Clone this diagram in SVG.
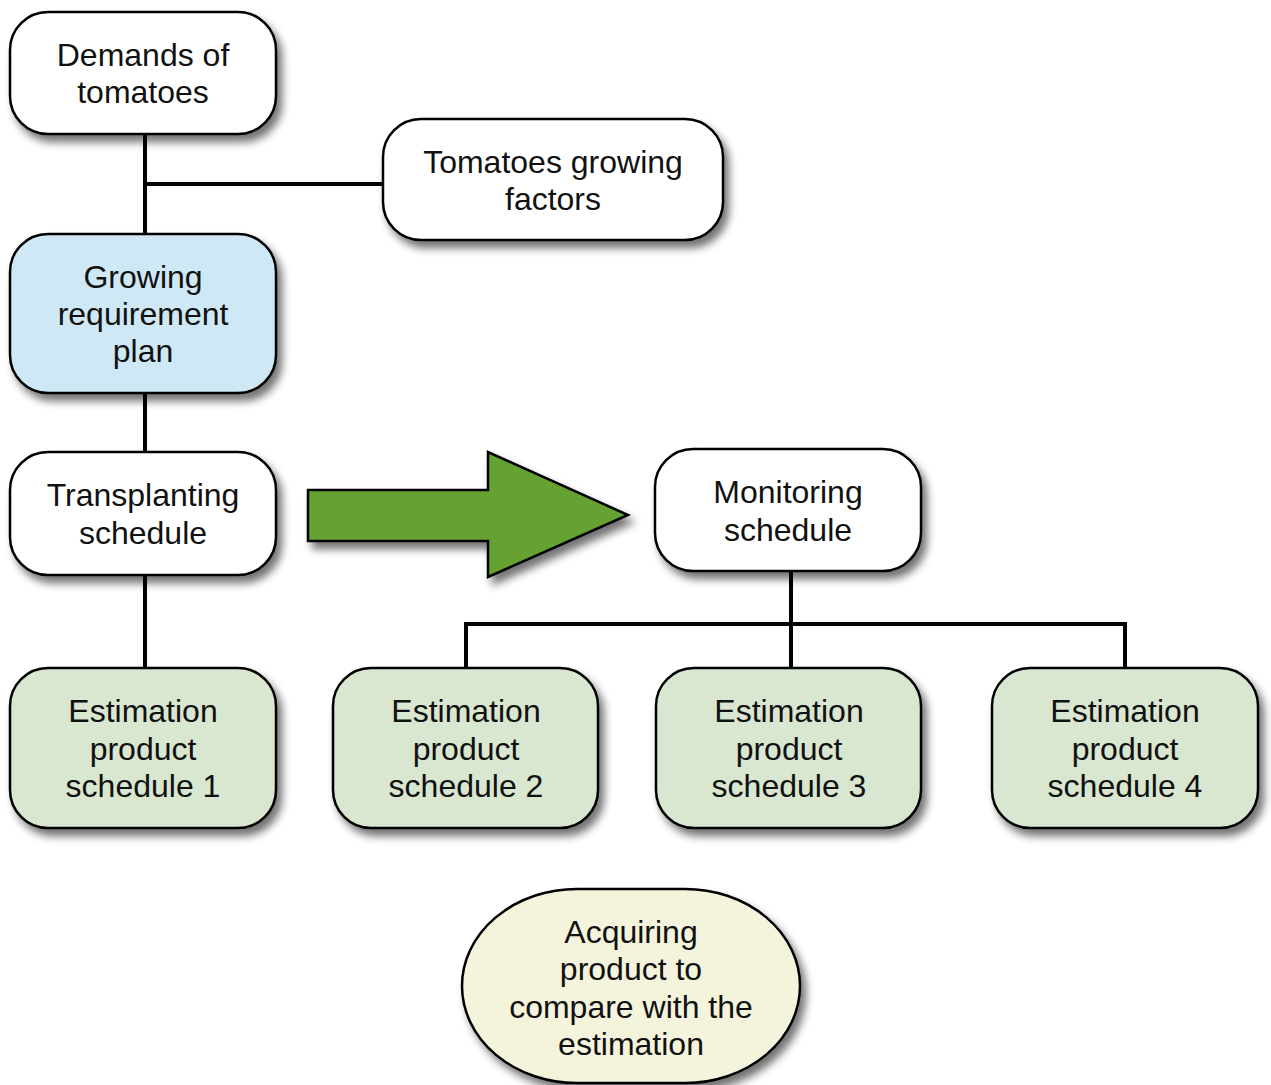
<svg xmlns="http://www.w3.org/2000/svg" width="1271" height="1085" viewBox="0 0 1271 1085">
<defs>
<filter id="sh" x="-10%" y="-10%" width="130%" height="130%">
<feGaussianBlur in="SourceAlpha" stdDeviation="4"/>
<feOffset dx="5" dy="7" result="b"/>
<feComponentTransfer><feFuncA type="linear" slope="0.55"/></feComponentTransfer>
<feMerge><feMergeNode/><feMergeNode in="SourceGraphic"/></feMerge>
</filter>
</defs>
<style>
.box{stroke:#000;stroke-width:2.5;filter:url(#sh)}
.w{fill:#fff}
.b{fill:#cfe8f5}
.g{fill:#d9e6d0}
.y{fill:#f4f4dc}
.t{font-family:"Liberation Sans",Arial,sans-serif;font-size:32px;fill:#111;text-anchor:middle}
.c{stroke:#000;stroke-width:4;fill:none}
</style>
<rect width="1271" height="1085" fill="#fff"/>
<g id="connectors">
<path class="c" d="M145 134V234M145 184H383M145 393V452M145 575V668M791 571V668M466 624H1125M466 622V668M1125 622V668"/>
</g>
<g id="arrow">
<path d="M308 490H488V452L628 515L488 577V541H308Z" fill="#66a232" stroke="#000" stroke-width="2.5" filter="url(#sh)"/>
</g>
<g id="demands">
<rect class="box w" x="10" y="12" width="266" height="122" rx="38"/>
<text class="t" x="143" y="66">Demands of</text>
<text class="t" x="143" y="103">tomatoes</text>
</g>
<g id="factors">
<rect class="box w" x="383" y="119" width="340" height="121" rx="38"/>
<text class="t" x="553" y="173">Tomatoes growing</text>
<text class="t" x="553" y="210">factors</text>
</g>
<g id="plan">
<rect class="box b" x="10" y="234" width="266" height="159" rx="38"/>
<text class="t" x="143" y="288">Growing</text>
<text class="t" x="143" y="325">requirement</text>
<text class="t" x="143" y="362">plan</text>
</g>
<g id="transplanting">
<rect class="box w" x="10" y="452" width="266" height="123" rx="38"/>
<text class="t" x="143" y="506">Transplanting</text>
<text class="t" x="143" y="544">schedule</text>
</g>
<g id="monitoring">
<rect class="box w" x="655" y="449" width="266" height="122" rx="38"/>
<text class="t" x="788" y="503">Monitoring</text>
<text class="t" x="788" y="541">schedule</text>
</g>
<g id="est1">
<rect class="box g" x="10" y="668" width="266" height="160" rx="38"/>
<text class="t" x="143" y="722">Estimation</text>
<text class="t" x="143" y="760">product</text>
<text class="t" x="143" y="797">schedule 1</text>
</g>
<g id="est2">
<rect class="box g" x="333" y="668" width="265" height="160" rx="38"/>
<text class="t" x="466" y="722">Estimation</text>
<text class="t" x="466" y="760">product</text>
<text class="t" x="466" y="797">schedule 2</text>
</g>
<g id="est3">
<rect class="box g" x="656" y="668" width="265" height="160" rx="38"/>
<text class="t" x="789" y="722">Estimation</text>
<text class="t" x="789" y="760">product</text>
<text class="t" x="789" y="797">schedule 3</text>
</g>
<g id="est4">
<rect class="box g" x="992" y="668" width="266" height="160" rx="38"/>
<text class="t" x="1125" y="722">Estimation</text>
<text class="t" x="1125" y="760">product</text>
<text class="t" x="1125" y="797">schedule 4</text>
</g>
<g id="acquiring">
<rect class="box y" x="462" y="889" width="338" height="194" rx="115" ry="97"/>
<text class="t" x="631" y="943">Acquiring</text>
<text class="t" x="631" y="980">product to</text>
<text class="t" x="631" y="1018">compare with the</text>
<text class="t" x="631" y="1055">estimation</text>
</g>
</svg>
